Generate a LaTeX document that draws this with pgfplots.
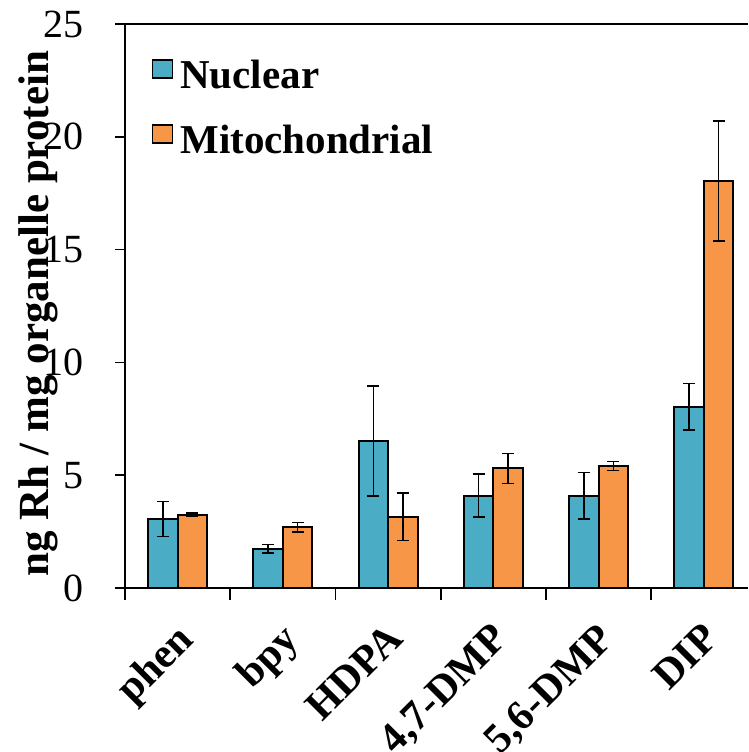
\documentclass[border=0pt]{standalone}
\usepackage{fontspec}
\setmainfont{Liberation Serif}
\usepackage{pgfplots}
\usepackage{pgfplotstable}
\pgfplotsset{compat=1.18}
\definecolor{nuc}{HTML}{4BACC6}
\definecolor{mito}{HTML}{F79646}

\pgfplotstableread{
x y e
0 3.06 0.78
1 1.74 0.19
2 6.52 2.44
3 4.09 0.95
4 4.09 1.03
5 8.04 1.03
}\nuctab
\pgfplotstableread{
x y e
0 3.25 0.07
1 2.69 0.22
2 3.16 1.06
3 5.30 0.66
4 5.41 0.20
5 18.04 2.66
}\mitotab

\begin{document}
\begin{tikzpicture}
\begin{axis}[
  scale only axis, width=623pt, height=564pt,
  xmin=-0.5, xmax=5.42, ymin=0, ymax=25,
  ybar=0pt, bar width=29.5pt,
  axis x line*=bottom, axis y line*=left,
  axis line style={line width=1.6pt, black},
  xtick={0,...,5},
  xticklabels={phen,bpy,HDPA,{4,7-DMP},{5,6-DMP},DIP},
  major x tick style={draw=none},
  minor xtick={-0.5,0.5,1.5,2.5,3.5,4.5},
  tick align=outside,
  major tick length=10pt, minor tick length=12pt,
  every tick/.style={line width=1.6pt, black},
  ytick={0,5,...,25},
  /pgf/number format/assume math mode=true,
  yticklabel style={font=\fontsize{40}{40}\selectfont, anchor=east, inner sep=0pt},
  yticklabel shift=31pt,
  xticklabel style={font=\bfseries\fontsize{42}{42}\selectfont, anchor=north east, inner sep=0pt, xshift=-3pt, yshift=-23pt, rotate=45},
  ylabel={ng Rh / mg organelle protein},
  ylabel style={font=\bfseries\fontsize{43}{43}\selectfont, at={([xshift=-87pt]rel axis cs:0,0.486)}, anchor=center},
  legend style={at={(rel axis cs:0.042,0.94)}, anchor=north west, draw=none, fill=none,
    font=\bfseries\fontsize{41}{41}\selectfont, row sep=31pt, inner sep=0pt},
  legend cell align=left,
  legend image code/.code={\draw[#1, line width=1.4pt] (0pt,-3pt) rectangle (20pt,15pt); \path (0pt,0pt) (25pt,0pt);},
  clip=false,
]
\addplot[fill=nuc, draw=black, line width=2pt,
  error bars/.cd, y dir=both, y explicit,
  error bar style={line width=1.6pt, black},
  error mark options={rotate=90, mark size=6pt, line width=1.6pt, black}]
  table[x=x, y=y, y error=e]{\nuctab};
\addlegendentry{Nuclear}
\addplot[fill=mito, draw=black, line width=2pt,
  error bars/.cd, y dir=both, y explicit,
  error bar style={line width=1.6pt, black},
  error mark options={rotate=90, mark size=6pt, line width=1.6pt, black}]
  table[x=x, y=y, y error=e]{\mitotab};
\addlegendentry{Mitochondrial}
\draw[line width=1.6pt, black] (rel axis cs:0,1) -- (rel axis cs:1,1);
\coordinate (LL) at (rel axis cs:0,0);
\coordinate (UR) at (rel axis cs:1,1);
\end{axis}
\pgfresetboundingbox
\path ([xshift=-125pt,yshift=-164pt]LL) rectangle ([yshift=24pt]UR);
\end{tikzpicture}
\end{document}
